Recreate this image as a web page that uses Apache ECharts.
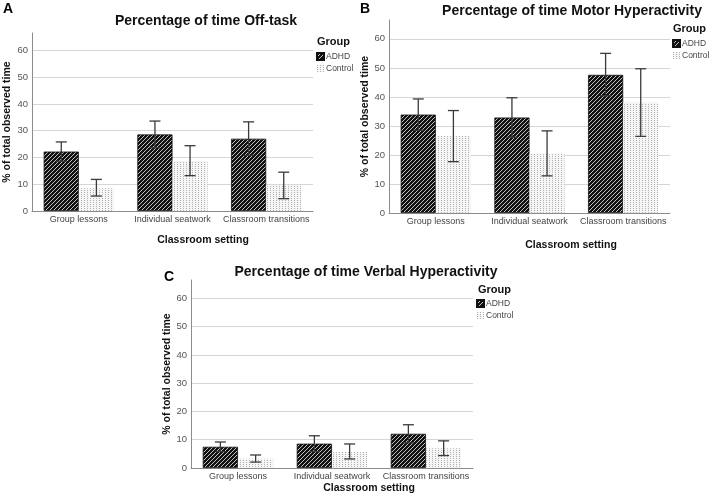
<!DOCTYPE html>
<html><head><meta charset="utf-8">
<script src="https://cdn.jsdelivr.net/npm/echarts@6/dist/echarts.min.js"></script>
<style>html,body{margin:0;padding:0;background:#fff}#c{width:710px;height:496px}</style>
</head><body><div id="c"></div>
<script>
// ---------- DATA ----------
const categories = ['Group lessons', 'Individual seatwork', 'Classroom transitions'];
const groups = ['ADHD', 'Control'];
const yTicks = [0, 10, 20, 30, 40, 50, 60];

// A: Off-task
const offTaskADHD = [22.2, 28.6, 27.0];
const offTaskADHDLow = [18.6, 23.6, 20.8];
const offTaskADHDHigh = [25.8, 33.6, 33.3];
const offTaskControl = [8.5, 18.7, 9.8];
const offTaskControlLow = [5.6, 13.2, 4.6];
const offTaskControlHigh = [11.8, 24.4, 14.5];

// B: Motor hyperactivity
const motorADHD = [33.9, 32.9, 47.6];
const motorADHDLow = [28.5, 26.1, 40.4];
const motorADHDHigh = [39.3, 39.7, 55.0];
const motorControl = [26.5, 20.5, 38.0];
const motorControlLow = [17.7, 12.8, 26.4];
const motorControlHigh = [35.3, 28.3, 49.7];

// C: Verbal hyperactivity
const verbalADHD = [7.5, 8.6, 12.1];
const verbalADHDLow = [5.8, 5.8, 8.9];
const verbalADHDHigh = [9.2, 11.4, 15.3];
const verbalControl = [3.3, 5.7, 7.0];
const verbalControlLow = [2.1, 3.2, 4.4];
const verbalControlHigh = [4.6, 8.5, 9.6];

// ---------- PATTERNS ----------
function hatchPattern() {
  const s = 4, cv = document.createElement('canvas');
  cv.width = s; cv.height = s;
  const g = cv.getContext('2d');
  g.fillStyle = '#111'; g.fillRect(0, 0, s, s);
  g.strokeStyle = '#d8d8d8'; g.lineWidth = 0.9;
  g.beginPath();
  g.moveTo(-1, 1); g.lineTo(1, -1);
  g.moveTo(0, s); g.lineTo(s, 0);
  g.moveTo(s - 1, s + 1); g.lineTo(s + 1, s - 1);
  g.stroke();
  return cv;
}
function dotPattern() {
  const cv = document.createElement('canvas');
  cv.width = 3; cv.height = 2;
  const g = cv.getContext('2d');
  g.fillStyle = '#f6f6f6'; g.fillRect(0, 0, 3, 2);
  g.fillStyle = '#b0b0b0'; g.fillRect(0, 0, 1, 1);
  return cv;
}
const adhdFill = { image: hatchPattern(), repeat: 'repeat' };
const ctrlFill = { image: dotPattern(), repeat: 'repeat' };

// ---------- LAYOUT ----------
const panels = [
  { letter: 'A', title: 'Percentage of time Off-task', grid: { left: 32, top: 33, width: 281, height: 178 },
    titlePos: [206, 21], letterPos: [8, 9], groupPos: [317, 42], legend: { left: 316, top: 52 },
    yNameGap: 19, xNamePos: [203, 240.5],
    a: offTaskADHD, aL: offTaskADHDLow, aH: offTaskADHDHigh, c: offTaskControl, cL: offTaskControlLow, cH: offTaskControlHigh },
  { letter: 'B', title: 'Percentage of time Motor Hyperactivity', grid: { left: 389, top: 20, width: 281, height: 193 },
    titlePos: [572, 11], letterPos: [365, 9], groupPos: [673, 29], legend: { left: 672, top: 39 },
    yNameGap: 16, xNamePos: [571, 245],
    a: motorADHD, aL: motorADHDLow, aH: motorADHDHigh, c: motorControl, cL: motorControlLow, cH: motorControlHigh },
  { letter: 'C', title: 'Percentage of time Verbal Hyperactivity', grid: { left: 191, top: 280, width: 282, height: 188 },
    titlePos: [366, 272], letterPos: [169, 277], groupPos: [478, 290], legend: { left: 476, top: 299 },
    yNameGap: 16, xNamePos: [369, 488],
    a: verbalADHD, aL: verbalADHDLow, aH: verbalADHDHigh, c: verbalControl, cL: verbalControlLow, cH: verbalControlHigh }
];

const FONT = "'Liberation Sans', Arial, sans-serif";
const grids = [], xAxes = [], yAxes = [], series = [], legends = [], graphics = [];

function errRender(which) {
  return function (params, api) {
    const cat = api.value(0);
    const lo = api.coord([cat, api.value(1)]);
    const hi = api.coord([cat, api.value(2)]);
    const band = api.size([1, 0])[0];
    const bw = band * 0.75 / 2;
    const x = lo[0] + (which === 0 ? -bw / 2 : bw / 2);
    const cap = 5.5;
    const st = { stroke: '#3a3a3a', lineWidth: 1.3 };
    return { type: 'group', children: [
      { type: 'line', shape: { x1: x, y1: lo[1], x2: x, y2: hi[1] }, style: st },
      { type: 'line', shape: { x1: x - cap, y1: lo[1], x2: x + cap, y2: lo[1] }, style: st },
      { type: 'line', shape: { x1: x - cap, y1: hi[1], x2: x + cap, y2: hi[1] }, style: st }
    ]};
  };
}

panels.forEach((p, i) => {
  grids.push(Object.assign({ containLabel: false, outerBoundsMode: 'none' }, p.grid));
  xAxes.push({
    type: 'category', gridIndex: i, data: categories,
    axisLine: { lineStyle: { color: '#8c8c8c', width: 1 } },
    axisTick: { show: false },
    axisLabel: { fontSize: 9, color: '#444', margin: 4, fontFamily: FONT, interval: 0 }
  });
  yAxes.push({
    type: 'value', gridIndex: i, min: yTicks[0], max: 66.5, interval: 10,
    axisLine: { show: true, lineStyle: { color: '#8c8c8c', width: 1 } },
    axisTick: { show: false },
    axisLabel: { fontSize: 9.5, color: '#555', margin: 4, fontFamily: FONT, showMaxLabel: false,
      formatter: v => (yTicks.indexOf(v) >= 0 ? String(v) : '') },
    splitLine: { show: true, showMaxLine: false, lineStyle: { color: '#d6d6d6', width: 1 } },
    name: '% of total observed time', nameLocation: 'middle', nameGap: p.yNameGap,
    nameTextStyle: { fontSize: 10.5, fontWeight: 'bold', color: '#111', fontFamily: FONT }
  });
  series.push({
    type: 'bar', name: 'ADHD', xAxisIndex: i, yAxisIndex: i, data: p.a,
    barCategoryGap: '25%', barGap: '0%',
    itemStyle: { color: adhdFill, borderColor: '#111', borderWidth: 0.8 },
    emphasis: { disabled: true }
  });
  series.push({
    type: 'bar', name: 'Control', xAxisIndex: i, yAxisIndex: i, data: p.c,
    barCategoryGap: '25%', barGap: '0%',
    itemStyle: { color: ctrlFill },
    emphasis: { disabled: true }
  });
  series.push({
    type: 'custom', name: 'errA' + i, xAxisIndex: i, yAxisIndex: i, z: 5,
    renderItem: errRender(0), data: categories.map((_, k) => [k, p.aL[k], p.aH[k]])
  });
  series.push({
    type: 'custom', name: 'errC' + i, xAxisIndex: i, yAxisIndex: i, z: 5,
    renderItem: errRender(1), data: categories.map((_, k) => [k, p.cL[k], p.cH[k]])
  });
  legends.push({
    data: groups, orient: 'vertical', left: p.legend.left, top: p.legend.top,
    itemWidth: 7, itemHeight: 7, itemGap: 3, padding: 0, icon: 'rect',
    selectedMode: false,
    textStyle: { fontSize: 8.5, color: '#444', fontFamily: FONT, padding: [0, 0, 0, -3] }
  });
  graphics.push({ type: 'text', x: p.titlePos[0], y: p.titlePos[1],
    style: { text: p.title, font: 'bold 14px ' + FONT, fill: '#111', textAlign: 'center', textVerticalAlign: 'middle' } });
  graphics.push({ type: 'text', x: p.letterPos[0], y: p.letterPos[1],
    style: { text: p.letter, font: 'bold 14px ' + FONT, fill: '#000', textAlign: 'center', textVerticalAlign: 'middle' } });
  graphics.push({ type: 'text', x: p.groupPos[0], y: p.groupPos[1],
    style: { text: 'Group', font: 'bold 11px ' + FONT, fill: '#111', textAlign: 'left', textVerticalAlign: 'middle' } });
  graphics.push({ type: 'text', x: p.xNamePos[0], y: p.xNamePos[1],
    style: { text: 'Classroom setting', font: 'bold 10.5px ' + FONT, fill: '#111', textAlign: 'center', textVerticalAlign: 'middle' } });
});

const chart = echarts.init(document.getElementById('c'), null, { renderer: 'canvas' });
chart.setOption({
  animation: false,
  backgroundColor: '#fff',
  grid: grids, xAxis: xAxes, yAxis: yAxes, series: series, legend: legends, graphic: graphics
});
</script></body></html>
